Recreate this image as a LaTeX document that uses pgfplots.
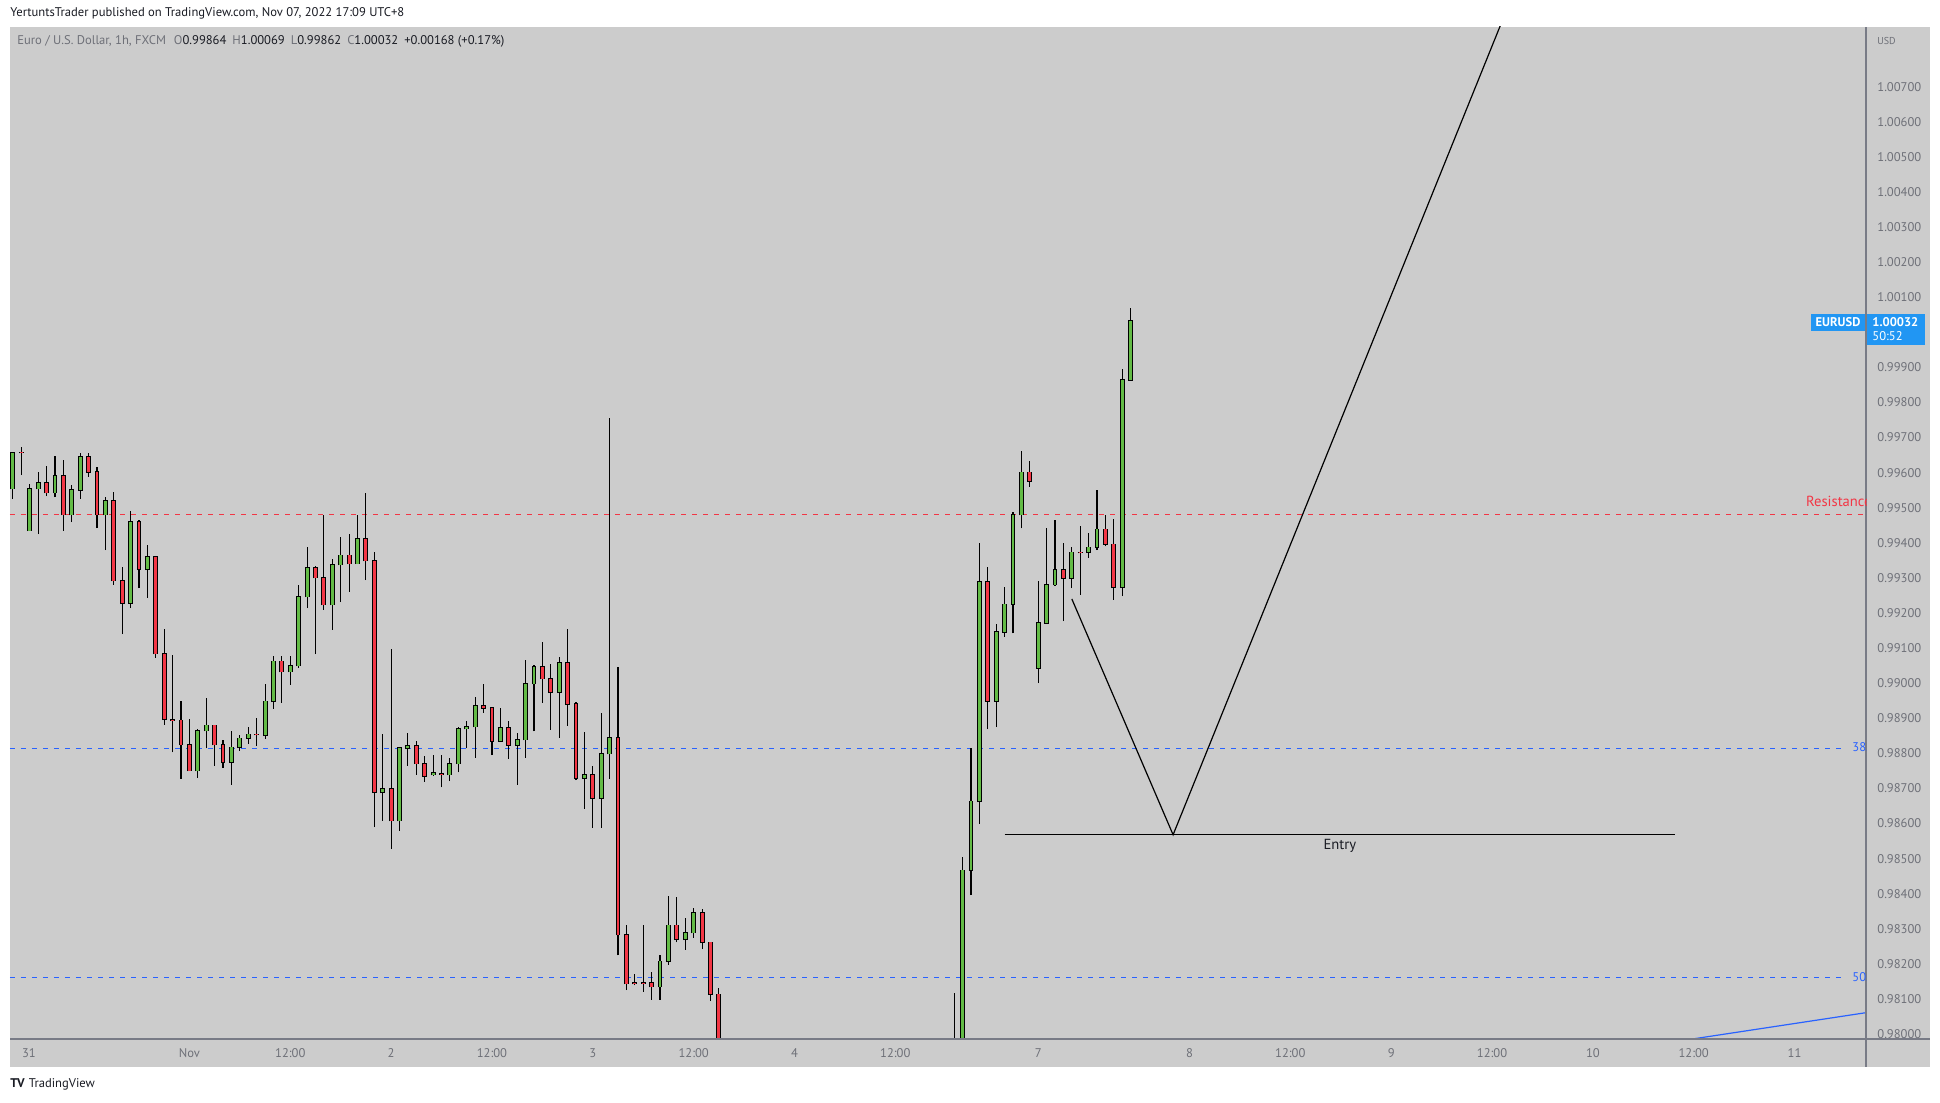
\documentclass[border=0pt]{standalone}
\usepackage{pgfplots}
\pgfplotsset{compat=1.18}
\usepackage{pgfplotstable}
\usepackage{fontspec}
\setmainfont{PT Sans}

\definecolor{tvbg}{RGB}{204,204,204}
\definecolor{tvgreen}{RGB}{99,187,70}
\definecolor{tvred}{RGB}{242,54,69}
\definecolor{tvblue}{RGB}{41,98,255}
\definecolor{tvlabel}{RGB}{33,150,243}
\definecolor{tvgray}{RGB}{110,112,120}
\definecolor{tvaxis}{RGB}{120,123,134}
\definecolor{tvtext}{RGB}{25,27,35}

\newcommand\tvfont{\fontsize{6.3}{7.5}\selectfont}
\newcommand\drawfont{\fontsize{7.3}{8.5}\selectfont}

% EURUSD 1h, bar index 0 = Nov 1 00:00 (UTC+8), weekend skipped
\pgfplotstableread{
i O H L C
-21 0.99554 0.99659 0.99526 0.99656
-20 0.99658 0.99674 0.99593 0.99657
-19 0.99435 0.99568 0.99434 0.99554
-18 0.99554 0.99601 0.99425 0.99571
-17 0.99571 0.99618 0.99533 0.99543
-16 0.99543 0.99646 0.99530 0.99591
-15 0.99591 0.99635 0.99434 0.99480
-14 0.99480 0.99564 0.99459 0.99551
-13 0.99551 0.99657 0.99525 0.99645
-12 0.99645 0.99655 0.99588 0.99602
-11 0.99602 0.99617 0.99442 0.99480
-10 0.99480 0.99531 0.99379 0.99520
-9 0.99520 0.99546 0.99280 0.99292
-8 0.99292 0.99330 0.99140 0.99228
-7 0.99228 0.99490 0.99214 0.99460
-6 0.99460 0.99464 0.99271 0.99324
-5 0.99324 0.99393 0.99243 0.99361
-4 0.99361 0.99363 0.99073 0.99084
-3 0.99084 0.99154 0.98881 0.98897
-2 0.98895 0.99080 0.98803 0.98894
-1 0.98894 0.98949 0.98728 0.98825
0 0.98825 0.98898 0.98750 0.98751
1 0.98751 0.98869 0.98731 0.98865
2 0.98865 0.98957 0.98814 0.98880
3 0.98880 0.98881 0.98765 0.98825
4 0.98825 0.98838 0.98759 0.98774
5 0.98774 0.98863 0.98711 0.98817
6 0.98817 0.98852 0.98808 0.98843
7 0.98843 0.98875 0.98827 0.98854
8 0.98854 0.98900 0.98822 0.98853
9 0.98851 0.98997 0.98842 0.98948
10 0.98948 0.99077 0.98927 0.99062
11 0.99062 0.99077 0.98944 0.99033
12 0.99033 0.99077 0.98995 0.99050
13 0.99050 0.99279 0.99044 0.99247
14 0.99247 0.99387 0.99214 0.99329
15 0.99329 0.99333 0.99083 0.99301
16 0.99301 0.99478 0.99209 0.99224
17 0.99224 0.99353 0.99152 0.99338
18 0.99338 0.99416 0.99231 0.99364
19 0.99364 0.99424 0.99260 0.99341
20 0.99341 0.99478 0.99341 0.99412
21 0.99412 0.99541 0.99294 0.99349
22 0.99349 0.99373 0.98590 0.98689
23 0.98689 0.98855 0.98608 0.98699
24 0.98699 0.99097 0.98528 0.98608
25 0.98608 0.98816 0.98579 0.98816
26 0.98814 0.98857 0.98765 0.98821
27 0.98821 0.98836 0.98739 0.98771
28 0.98771 0.98793 0.98719 0.98736
29 0.98739 0.98795 0.98736 0.98744
30 0.98742 0.98795 0.98703 0.98741
31 0.98739 0.98788 0.98721 0.98771
32 0.98771 0.98876 0.98746 0.98870
33 0.98870 0.98892 0.98814 0.98876
34 0.98876 0.98962 0.98787 0.98935
35 0.98935 0.98997 0.98916 0.98929
36 0.98929 0.98931 0.98795 0.98835
37 0.98835 0.98928 0.98833 0.98873
38 0.98873 0.98892 0.98784 0.98824
39 0.98824 0.98857 0.98710 0.98839
40 0.98839 0.99065 0.98787 0.98999
41 0.98999 0.99052 0.98863 0.99046
42 0.99046 0.99116 0.98944 0.99013
43 0.99013 0.99056 0.98867 0.98974
44 0.98974 0.99074 0.98844 0.99058
45 0.99058 0.99154 0.98878 0.98941
46 0.98941 0.98945 0.98724 0.98730
47 0.98730 0.98860 0.98642 0.98739
48 0.98739 0.98763 0.98588 0.98672
49 0.98672 0.98916 0.98588 0.98799
50 0.98799 0.99756 0.98728 0.98845
51 0.98845 0.99046 0.98224 0.98283
52 0.98283 0.98312 0.98125 0.98144
53 0.98145 0.98172 0.98139 0.98144
54 0.98146 0.98312 0.98121 0.98145
55 0.98146 0.98178 0.98098 0.98135
56 0.98135 0.98224 0.98098 0.98207
57 0.98207 0.98393 0.98198 0.98310
58 0.98310 0.98391 0.98261 0.98270
59 0.98270 0.98331 0.98240 0.98289
60 0.98289 0.98360 0.98274 0.98345
61 0.98345 0.98356 0.98242 0.98261
62 0.98261 0.98261 0.98094 0.98113
63 0.98113 0.98130 0.97850 0.97900
91 0.97800 0.98116 0.97700 0.97950
92 0.97950 0.98506 0.97900 0.98467
93 0.98467 0.98814 0.98396 0.98663
94 0.98663 0.99400 0.98599 0.99289
95 0.99289 0.99331 0.98869 0.98949
96 0.98949 0.99170 0.98875 0.99146
97 0.99146 0.99274 0.99132 0.99225
98 0.99225 0.99487 0.99142 0.99480
99 0.99480 0.99662 0.99441 0.99601
100 0.99601 0.99633 0.99560 0.99576
101 0.99043 0.99292 0.99000 0.99171
102 0.99171 0.99441 0.99171 0.99281
103 0.99281 0.99466 0.99277 0.99322
104 0.99322 0.99400 0.99177 0.99299
105 0.99299 0.99389 0.99271 0.99373
106 0.99373 0.99447 0.99252 0.99372
107 0.99373 0.99428 0.99358 0.99387
108 0.99387 0.99550 0.99379 0.99438
109 0.99438 0.99480 0.99390 0.99396
110 0.99396 0.99469 0.99238 0.99273
111 0.99273 0.99894 0.99248 0.99864
112 0.99864 1.00069 0.99862 1.00032
}\candles

\pgfplotsset{
  candle/.style 2 args={draw=none, mark=none, forget plot,
    error bars/.cd, y dir=plus, y explicit, error mark=none,
    error bar style={draw=#1, solid, line width=#2}},
}

\begin{document}
\begin{tikzpicture}
\begin{scope}[x=0.5pt,y=0.5pt]
\path[use as bounding box, fill=white] (0,0) rectangle (1940,1103);
\fill[tvbg] (10,36) rectangle (1930,1076);
\end{scope}

\begin{axis}[
  at={(5pt,32pt)}, anchor=south west, scale only axis,
  width=928pt, height=506pt,
  xmin=-21.35, xmax=199.5, ymin=0.97986, ymax=1.0087,
  axis x line*=bottom, axis y line*=right,
  axis line style={draw=none},
  major tick length=0pt,
  scaled y ticks=false,
  ytick={0.980,0.981,0.982,0.983,0.984,0.985,0.986,0.987,0.988,0.989,0.990,0.991,0.992,0.993,0.994,0.995,0.996,0.997,0.998,0.999,1.001,1.002,1.003,1.004,1.005,1.006,1.007},
  yticklabel={\pgfmathprintnumber[fixed,fixed zerofill,precision=5,assume math mode=true]{\tick}},
  yticklabel style={font=\tvfont, text=tvgray, anchor=west, inner sep=0pt, xshift=5.5pt},
  xtick={-19.1,0,12,24,36,48,60,72,84,101,119,131,143,155,167,179,191},
  xticklabels={31,Nov,12:00,2,12:00,3,12:00,4,12:00,7,8,12:00,9,12:00,10,12:00,11},
  xticklabel style={font=\tvfont, text=tvgray, anchor=north, inner sep=0pt, yshift=-4.6pt},
]
% levels
\addplot[tvred, line width=0.5pt, dash pattern=on 2.5pt off 3pt] coordinates {(-21.35,0.99480) (199.5,0.99480)};
\addplot[tvblue, line width=0.5pt, dash pattern=on 2.5pt off 3pt] coordinates {(-21.35,0.98814) (196.6,0.98814)};
\addplot[tvblue, line width=0.5pt, dash pattern=on 2.5pt off 3pt] coordinates {(-21.35,0.98161) (196.6,0.98161)};
\addplot[tvblue, line width=0.6pt] coordinates {(175,0.97972) (199.5,0.98061)};

% wicks
\addplot[candle={black}{0.55pt}]
  table[x=i, y=L, y error plus expr={\thisrow{H}-\thisrow{L}}] {\candles};
% body outline
\addplot[candle={black}{2.45pt}]
  table[x=i, y expr={min(\thisrow{O},\thisrow{C})-0.00002}, y error plus expr={abs(\thisrow{C}-\thisrow{O})+0.00004}] {\candles};
% up bodies
\addplot[candle={tvgreen}{1.45pt}]
  table[x=i, y=O, y error plus expr={max(\thisrow{C}-\thisrow{O},0)}] {\candles};
% down bodies
\addplot[candle={tvred}{1.45pt}]
  table[x=i, y=C, y error plus expr={max(\thisrow{O}-\thisrow{C},0)}] {\candles};

% drawings
\addplot[black, line width=0.6pt] coordinates {(105.0,0.99240) (117.05,0.98568) (157,1.00934)};
\addplot[black, line width=0.6pt] coordinates {(97,0.98568) (176.8,0.98568)};
\node[font=\drawfont, text=tvtext] at (axis cs:136.9,0.98536) {Entry};
\end{axis}

\begin{scope}[x=0.5pt,y=0.5pt]
% axis lines
\draw[tvaxis, line width=0.6pt] (1866,36) -- (1866,1076);
\draw[tvaxis, line width=0.6pt] (10,64) -- (1930,64);

% level labels
\begin{scope}
\clip (10,64) rectangle (1866,1076);
\node[anchor=east, inner sep=0pt, font=\drawfont, text=tvred] at (1872,602) {Resistance};
\node[anchor=west, inner sep=0pt, font=\tvfont, text=tvblue] at (1852,355.5) {38.2};
\node[anchor=west, inner sep=0pt, font=\tvfont, text=tvblue] at (1852,126) {50.0};
\end{scope}

% price labels
\fill[tvlabel] (1811,772) rectangle (1865,789);
\node[font=\bfseries\tvfont, text=white, inner sep=0pt] at (1838,780.5) {EURUSD};
\fill[tvlabel] (1867,758) rectangle (1925,789);
\node[font=\bfseries\tvfont, text=white, anchor=west, inner sep=0pt] at (1872,781) {1.00032};
\node[font=\tvfont, text=white, anchor=west, inner sep=0pt] at (1872,767) {50:52};
\node[font=\fontsize{5}{6}\selectfont, text=tvgray, anchor=west, inner sep=0pt] at (1877,1062) {USD};

% headers
\node[anchor=west, inner sep=0pt, font=\tvfont, text=tvtext] at (10,1089.5) {YertuntsTrader published on TradingView.com, Nov 07, 2022 17:09 UTC+8};
\node[anchor=west, inner sep=0pt, font=\tvfont, text=tvgray] at (17,1062) {Euro / U.S. Dollar, 1h, FXCM\hspace{4pt}O\textcolor{tvtext}{0.99864}\hspace{3pt}H\textcolor{tvtext}{1.00069}\hspace{3pt}L\textcolor{tvtext}{0.99862}\hspace{3pt}C\textcolor{tvtext}{1.00032}\hspace{3pt}\textcolor{tvtext}{+0.00168 (+0.17\%)}};
\node[anchor=west, inner sep=0pt, font=\tvfont, text=tvtext] at (10,19) {\textbf{TV}\hspace{2pt}TradingView};
\end{scope}
\end{tikzpicture}
\end{document}
